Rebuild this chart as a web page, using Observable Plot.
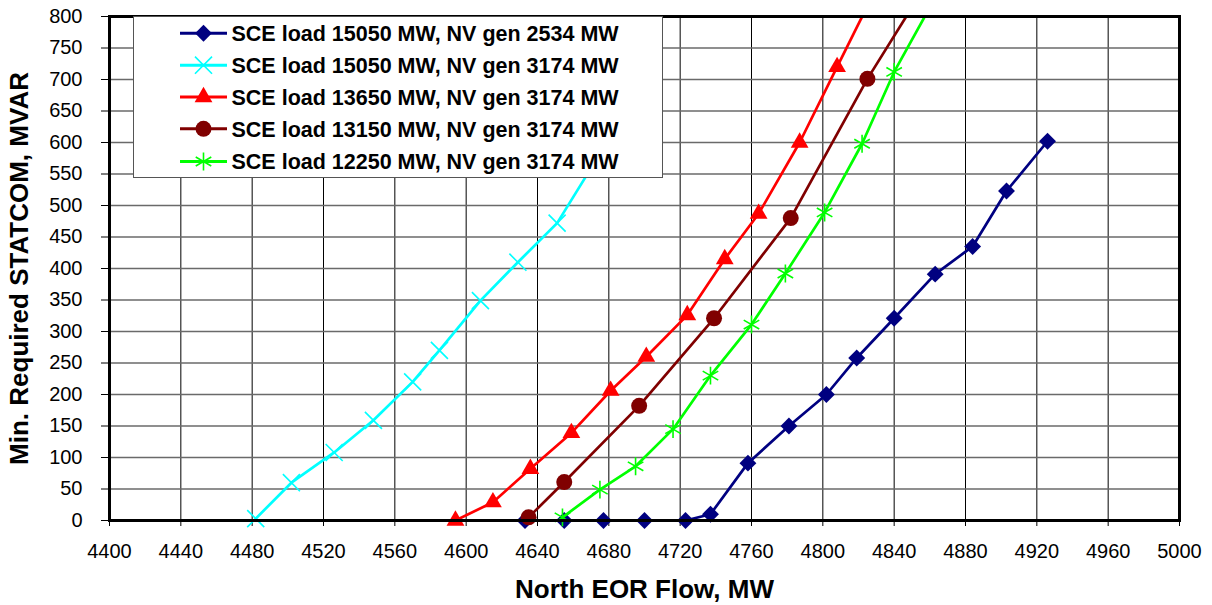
<!DOCTYPE html>
<html>
<head>
<meta charset="utf-8">
<script src="https://cdn.jsdelivr.net/npm/d3@7"></script>
<script src="https://cdn.jsdelivr.net/npm/@observablehq/plot@0.6"></script>
<style>
  body { margin: 0; background: #fff; }
  #wrap { position: relative; width: 1212px; height: 605px; font-family: "Liberation Sans", Arial, sans-serif; }
  #legend { position: absolute; left: 133px; top: 16px; width: 530px; height: 162px; background: #fff; border: 1.5px solid #555; box-sizing: border-box; }
  #legend svg { position: absolute; left: -1.5px; top: -1.5px; }
</style>
</head>
<body>
<div id="wrap"><div id="chart"></div><div id="legend"></div></div>
<script>
// ---- data ----
const seriesNames = [
  "SCE load 15050 MW, NV gen 2534 MW",
  "SCE load 15050 MW, NV gen 3174 MW",
  "SCE load 13650 MW, NV gen 3174 MW",
  "SCE load 13150 MW, NV gen 3174 MW",
  "SCE load 12250 MW, NV gen 3174 MW"
];
const flowA = [4633, 4655, 4677, 4700, 4723, 4737, 4758, 4781, 4802, 4819, 4840, 4863, 4884, 4903, 4926];
const mvarA = [0, 0, 0, 0, 0, 10, 91, 150, 200, 258, 321, 391, 435, 523, 602];
const flowB = [4482, 4502, 4526, 4548, 4570, 4585, 4608, 4629, 4651, 4680, 4705];
const mvarB = [3, 60, 108, 159, 220, 270, 349, 410, 472, 605, 740];
const flowC = [4594, 4615, 4636, 4659, 4681, 4701, 4724, 4745, 4764, 4787, 4808, 4830];
const mvarC = [0, 29, 82, 139, 206, 260, 326, 415, 487, 600, 720, 845];
const flowD = [4635, 4655, 4697, 4739, 4782, 4825, 4860];
const mvarD = [5, 61, 182, 321, 480, 701, 860];
const flowE = [4654, 4675, 4695, 4716, 4737, 4760, 4779, 4801, 4822, 4840, 4865];
const mvarE = [5, 49, 86, 145, 230, 311, 392, 489, 598, 712, 840];
const xTicks = d3.range(4400, 5001, 40);
const yTicks = d3.range(0, 801, 50);
const xLabel = "North EOR Flow, MW";
const yLabel = "Min. Required STATCOM, MVAR";

// ---- styles ----
const seriesColors = ["#000080", "#00ffff", "#ff0000", "#800000", "#00ff00"];
const seriesSymbols = ["diamond2", "times", "triangle", "circle", "asterisk"];
const seriesFilled = [true, false, true, true, false];
const seriesR = [7.6, 7.8, 6.6, 8, 8.5];

const flows = [flowA, flowB, flowC, flowD, flowE];
const mvars = [mvarA, mvarB, mvarC, mvarD, mvarE];
const rows = seriesNames.map((name, i) => flows[i].map((f, j) => ({series: name, flow: f, mvar: mvars[i][j]})));

const seriesMarks = rows.flatMap((data, i) => [
  Plot.line(data, {x: "flow", y: "mvar", stroke: seriesColors[i], strokeWidth: 2.7, clip: true}),
  Plot.dot(data.filter(d => d.mvar <= 800), {
    x: "flow", y: "mvar", symbol: seriesSymbols[i], r: seriesR[i],
    fill: seriesFilled[i] ? seriesColors[i] : "none",
    stroke: seriesFilled[i] ? "none" : seriesColors[i],
    strokeWidth: 1.6
  })
]);

const chart = Plot.plot({
  width: 1212, height: 605,
  marginLeft: 109, marginRight: 33, marginTop: 16, marginBottom: 85,
  style: {fontFamily: '"Liberation Sans", Arial, sans-serif', fontSize: "20px", color: "black", background: "white"},
  x: {domain: [4400, 5000]},
  y: {domain: [0, 800]},
  marks: [
    Plot.gridX(xTicks, {stroke: "black", strokeOpacity: 1, strokeWidth: 1}),
    Plot.gridY(yTicks, {stroke: "#6a6a6a", strokeOpacity: 1, strokeWidth: 1.5}),
    Plot.axisX({ticks: xTicks, tickSize: 6, tickPadding: 17, tickFormat: d => String(d), fontSize: 20,
      label: xLabel, labelAnchor: "center", labelOffset: 77, labelArrow: false}),
    Plot.axisY({ticks: yTicks, tickSize: 8, tickPadding: 19, tickFormat: d => String(d), fontSize: 20,
      label: yLabel, labelAnchor: "center", labelOffset: 100, labelArrow: false}),
    ...seriesMarks,
    Plot.frame({stroke: "black", strokeWidth: 3})
  ]
});
document.getElementById("chart").appendChild(chart);
chart.querySelectorAll('[aria-label="x-axis label"], [aria-label="y-axis label"]').forEach(g => {
  g.style.fontSize = "26px";
  g.style.fontWeight = "bold";
});

// ---- legend ----
const symbolMap = {diamond2: d3.symbolDiamond2, times: d3.symbolTimes, triangle: d3.symbolTriangle, circle: d3.symbolCircle, asterisk: d3.symbolAsterisk};
const lg = d3.select("#legend").append("svg").attr("width", 530).attr("height", 162);
const rowY = [17.3, 49.2, 81, 112.8, 145.5];
seriesNames.forEach((name, i) => {
  const g = lg.append("g").attr("transform", `translate(0,${rowY[i]})`);
  g.append("line").attr("x1", 47).attr("x2", 94).attr("stroke", seriesColors[i]).attr("stroke-width", 3);
  g.append("path")
    .attr("transform", "translate(70.5,0)")
    .attr("d", d3.symbol(symbolMap[seriesSymbols[i]], Math.PI * seriesR[i] * seriesR[i])())
    .attr("fill", seriesFilled[i] ? seriesColors[i] : "none")
    .attr("stroke", seriesFilled[i] ? "none" : seriesColors[i])
    .attr("stroke-width", 1.6);
  g.append("text").attr("x", 98.5).attr("y", 7.8)
    .attr("font-family", '"Liberation Sans", Arial, sans-serif')
    .attr("font-weight", "bold").attr("font-size", 21.5).attr("fill", "black")
    .text(name);
});
</script>
</body>
</html>
